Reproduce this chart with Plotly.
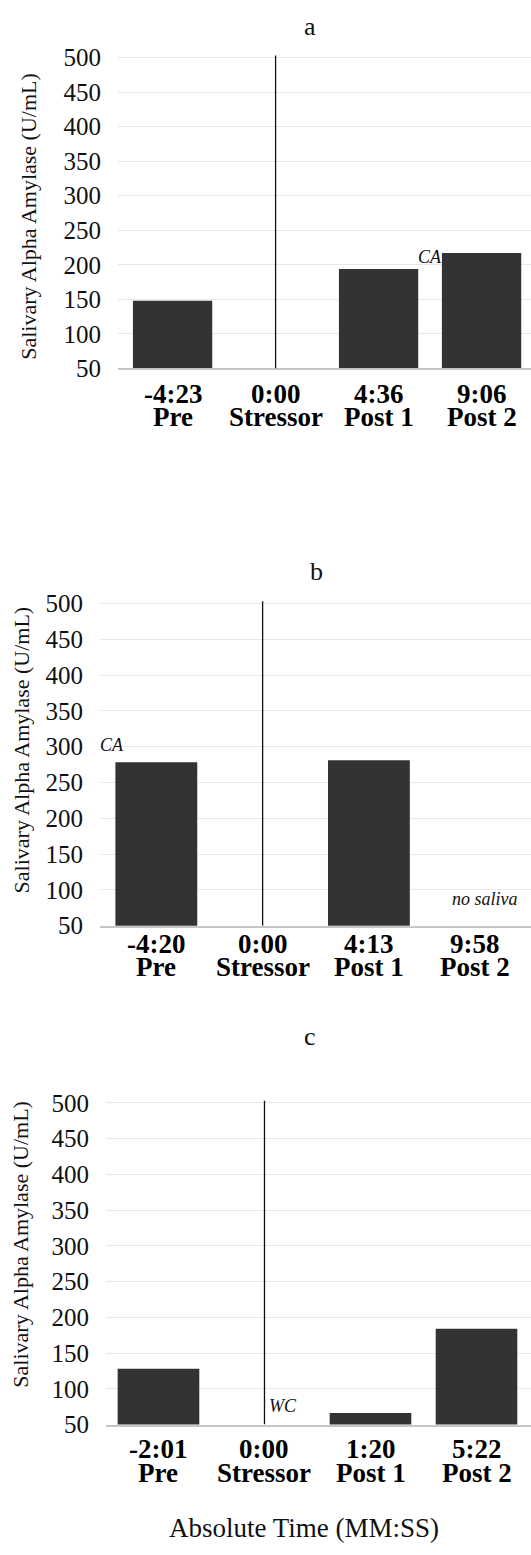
import plotly.graph_objects as go

# ---- data -------------------------------------------------------------
panel_titles = ["a", "b", "c"]
phases = ["Pre", "Stressor", "Post 1", "Post 2"]
times_a = ["-4:23", "0:00", "4:36", "9:06"]
times_b = ["-4:20", "0:00", "4:13", "9:58"]
times_c = ["-2:01", "0:00", "1:20", "5:22"]
amylase_a = [148, None, 194, 217]
amylase_b = [278, None, 281, None]
amylase_c = [128, None, 66, 184]
y_ticks = [50, 100, 150, 200, 250, 300, 350, 400, 450, 500]
y_title = "Salivary Alpha Amylase (U/mL)"
x_title = "Absolute Time (MM:SS)"
stressor_idx = phases.index("Stressor")

# ---- page geometry (pixels) ---------------------------------------------
W, H = 531, 1555
FONT = "Liberation Serif"
BAR = "#333333"


def py(px):
    return 1 - px / H


def pxx(px):
    return px / W


# per panel: plot left edge, y of 500 line, y of 50 line, x range,
# title position, y-title position, category label offsets
panels = [
    dict(left=118, top=48.3, bottom=364, xr=[-0.53, 3.48], title=(310, 17),
         ytitle=(29, 210), lab1=26, lab2=49.5,
         times=times_a, vals=amylase_a),
    dict(left=100, top=602.7, bottom=930, xr=[-0.53, 3.525], title=(316, 570),
         ytitle=(21, 752), lab1=19, lab2=42,
         times=times_b, vals=amylase_b),
    dict(left=106, top=1110, bottom=1436.7, xr=[-0.495, 3.514], title=(310, 1043),
         ytitle=(21, 1254), lab1=25, lab2=49,
         times=times_c, vals=amylase_c),
]

fig = go.Figure()
annotations = []
shapes = []
x_pos = list(range(len(phases)))

for i, p in enumerate(panels):
    n = "" if i == 0 else str(i + 1)
    xa, ya = "x" + n, "y" + n
    ppu = (p["bottom"] - p["top"]) / 450.0
    top_px = p["top"] - 4 * ppu  # axis extends a little above 500

    fig.add_trace(go.Bar(
        x=x_pos, y=p["vals"], xaxis=xa, yaxis=ya, width=0.77,
        marker=dict(color=BAR, line=dict(width=0)), showlegend=False,
        hoverinfo="skip",
    ))

    fig.layout["xaxis" + n] = dict(
        domain=[pxx(p["left"]), 1], range=p["xr"], anchor=ya,
        showgrid=False, zeroline=False, showticklabels=False, ticks="",
        showline=True, linecolor="#c6c6c6", linewidth=2,
        fixedrange=True,
    )
    fig.layout["yaxis" + n] = dict(
        domain=[py(p["bottom"]), py(top_px)], range=[50, 504], anchor=xa,
        tickvals=y_ticks, showgrid=True, gridcolor="#e8e8e8", gridwidth=1,
        zeroline=False, showline=False, ticks="",
        ticklabelstandoff=16,
        tickfont=dict(family=FONT, size=25, color="#111111"),
        fixedrange=True,
    )

    # stressor onset marker
    shapes.append(dict(
        type="line", xref=xa, yref=ya, x0=stressor_idx, x1=stressor_idx,
        y0=50, y1=503, line=dict(color="#111111", width=1.3), layer="above",
    ))

    # panel title
    annotations.append(dict(
        text=panel_titles[i], xref="paper", yref="paper",
        x=pxx(p["title"][0]), y=py(p["title"][1]), showarrow=False,
        xanchor="center", yanchor="middle",
        font=dict(family=FONT, size=26, color="#111111"),
    ))
    # y-axis title
    annotations.append(dict(
        text=y_title, xref="paper", yref="paper", textangle=-90,
        x=pxx(p["ytitle"][0]), y=py(p["ytitle"][1]), showarrow=False,
        xanchor="center", yanchor="middle",
        font=dict(family=FONT, size=22, color="#111111"),
    ))
    # two-line category labels: time, then phase name
    for k in x_pos:
        annotations.append(dict(
            text="<b>%s</b>" % p["times"][k], xref=xa, yref="paper",
            x=k, y=py(p["bottom"] + p["lab1"]), showarrow=False,
            xanchor="center", yanchor="middle",
            font=dict(family=FONT, size=27, color="#000000"),
        ))
        annotations.append(dict(
            text="<b>%s</b>" % phases[k], xref=xa, yref="paper",
            x=k, y=py(p["bottom"] + p["lab2"]), showarrow=False,
            xanchor="center", yanchor="middle",
            font=dict(family=FONT, size=27, color="#000000"),
        ))

note_font = dict(family=FONT, size=18, color="#111111")
# sample notes
annotations += [
    dict(text="<i>CA</i>", xref="x", yref="y", x=2.5, y=amylase_a[3],
         yshift=-4, showarrow=False, xanchor="center", yanchor="middle",
         font=note_font),
    dict(text="<i>CA</i>", xref="x2", yref="y2", x=-0.42, y=amylase_b[0],
         yshift=17, showarrow=False, xanchor="center", yanchor="middle",
         font=note_font),
    dict(text="<i>no saliva</i>", xref="x2", yref="y2", x=3.09, y=50,
         yshift=27, showarrow=False, xanchor="center", yanchor="middle",
         font=note_font),
    dict(text="<i>WC</i>", xref="x3", yref="y3", x=stressor_idx, y=50,
         xshift=3, yshift=19, showarrow=False, xanchor="left", yanchor="middle",
         font=note_font),
    dict(text=x_title, xref="paper", yref="paper", x=pxx(304), y=py(1542),
         showarrow=False, xanchor="center", yanchor="middle",
         font=dict(family=FONT, size=27, color="#111111")),
]

fig.update_layout(
    width=W, height=H, autosize=False,
    margin=dict(l=0, r=0, t=0, b=0),
    paper_bgcolor="white", plot_bgcolor="white",
    bargap=0.23, annotations=annotations, shapes=shapes,
    showlegend=False,
)

fig.write_html("out.html")
